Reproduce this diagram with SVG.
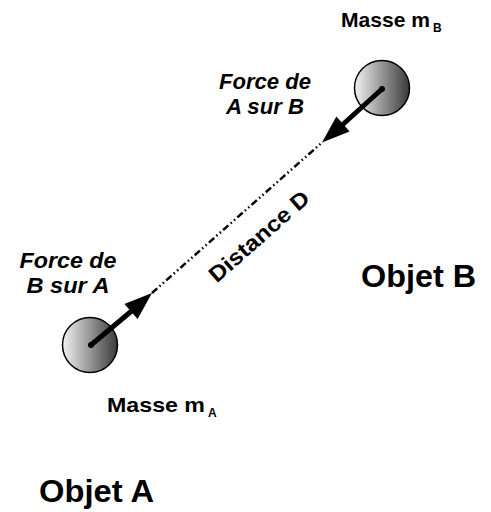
<svg xmlns="http://www.w3.org/2000/svg" width="491" height="512" viewBox="0 0 491 512">
<defs>
<linearGradient id="ball" x1="0" y1="0" x2="1" y2="0">
<stop offset="0" stop-color="#f2f2f2"/>
<stop offset="1" stop-color="#3a3a3a"/>
</linearGradient>
<style>
text{font-family:"Liberation Sans",Arial,sans-serif;font-weight:bold;fill:#000}
.it{font-style:italic;font-size:21.5px;text-anchor:middle}
.mass{font-size:21px}
.sub{font-size:12px}
.obj{font-size:30.5px}
.ball{fill:url(#ball);stroke:#000;stroke-width:1.5}
.shaft{stroke:#000;stroke-width:5;stroke-linecap:round;fill:none}
</style>
</defs>
<g id="connectors">
<line x1="152" y1="293" x2="322" y2="142.5" stroke="#000" stroke-width="2.5" stroke-dasharray="7 3 1.5 3 1.5 3"/>
</g>
<g id="objetA">
<circle class="ball" cx="90" cy="345" r="27.5"/>
<line class="shaft" x1="91" y1="345" x2="134" y2="309"/>
<polygon points="152,293 137.6,319 124.4,304"/>
<circle cx="91" cy="345" r="3"/>
</g>
<g id="objetB">
<circle class="ball" cx="382" cy="88" r="27.5"/>
<line class="shaft" x1="382" y1="89" x2="340" y2="127"/>
<polygon points="322,142.5 349.6,131.5 336.4,116.5"/>
<circle cx="382" cy="89" r="3"/>
</g>
<g id="labels">
<text class="mass" x="341" y="27"><tspan textLength="89" lengthAdjust="spacingAndGlyphs">Masse m</tspan><tspan class="sub" dx="3" dy="5">B</tspan></text>
<text class="mass" x="107" y="412"><tspan textLength="98" lengthAdjust="spacingAndGlyphs">Masse m</tspan><tspan class="sub" dx="3" dy="5">A</tspan></text>
<text class="it" x="265" y="89" textLength="92" lengthAdjust="spacingAndGlyphs">Force de</text>
<text class="it" x="265" y="114" textLength="78" lengthAdjust="spacingAndGlyphs">A sur B</text>
<text class="it" x="68" y="268" textLength="97" lengthAdjust="spacingAndGlyphs">Force de</text>
<text class="it" x="68" y="293" textLength="83" lengthAdjust="spacingAndGlyphs">B sur A</text>
<text font-size="22" text-anchor="middle" textLength="126" lengthAdjust="spacingAndGlyphs" transform="translate(264,242) rotate(-41.3)">Distance D</text>
<text class="obj" x="361" y="287" textLength="115" lengthAdjust="spacingAndGlyphs">Objet B</text>
<text class="obj" x="39" y="502" textLength="115" lengthAdjust="spacingAndGlyphs">Objet A</text>
</g>
</svg>
